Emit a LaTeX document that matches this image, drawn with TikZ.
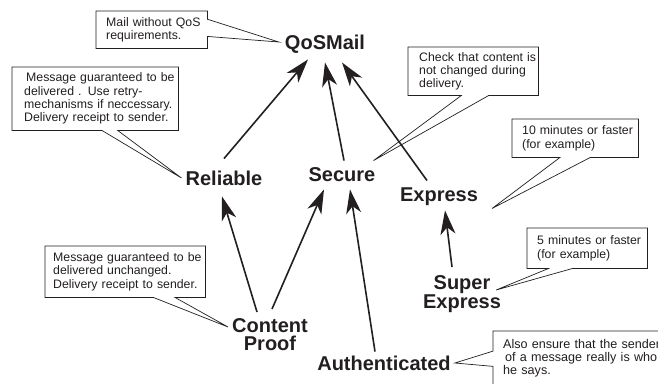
\documentclass[tikz,border=0pt]{standalone}
\usepackage{fontspec}
\setmainfont{Liberation Sans}
\usetikzlibrary{arrows.meta,calc,backgrounds}
\definecolor{ink}{RGB}{35,31,32}
\begin{document}
\begin{tikzpicture}[x=1pt,y=-1pt,
  term/.style={font=\fontsize{20}{18}\selectfont\bfseries, text=ink, inner sep=0pt, align=center},
  term1/.style={term, text height=14.5pt, text depth=0pt},
  note/.style={font=\fontsize{12.3}{13.3}\selectfont, text=ink, anchor=north west, align=left, inner ysep=0pt},
  arr/.style={draw=ink, line width=1.6pt, -{Stealth[length=24pt,width=15pt,inset=7pt]}},
  bubble/.style={draw=ink, line width=0.7pt, fill=white, line join=miter},
  shade/.style={fill=ink}
]
\useasboundingbox (0,0) rectangle (658,383);
\clip (0,0) rectangle (658,383);

% service classes
\node[term1] (qos) at (325,42) {QoSMail};
\node[term1] (rel) at (224,178) {Reliable};
\node[term1] (sec) at (342,174) {Secure};
\node[term1] (exp) at (439,194) {Express};
\node[term, anchor=north, font=\fontsize{20}{16}\selectfont\bfseries] (sup) at (462,275) {Super\\Express};
\node[term, anchor=north] (con) at (270,318) {Content\\Proof};
\node[term1] (aut) at (384,363) {Authenticated};

% explanatory notes
\node[note, text width=91pt, inner xsep=10pt, minimum width=111pt, minimum height=37pt] (nA) at (96,11)
  {\mbox{Mail without QoS}\\\mbox{requirements.}};
\node[note, text width=142pt, inner xsep=12pt, minimum width=166pt, minimum height=63pt] (nB) at (12,67)
  {\mbox{\hspace{2pt}Message guaranteed to be}\\\mbox{delivered . Use retry-}\\\mbox{mechanisms if neccessary.}\\\mbox{Delivery receipt to sender.}};
\node[note, text width=108pt, inner xsep=11pt, minimum width=130pt, minimum height=48pt] (nC) at (408,47)
  {\mbox{Check that content is}\\\mbox{not changed during}\\\mbox{delivery.}};
\node[note, text width=106pt, inner xsep=10pt, minimum width=126pt, minimum height=38pt] (nD) at (512,119)
  {\mbox{10 minutes or faster}\\\mbox{(for example)}};
\node[note, text width=100pt, inner xsep=10pt, minimum width=120pt, minimum height=40pt] (nE) at (527,228)
  {\mbox{5 minutes or faster}\\\mbox{(for example)}};
\node[note, font=\fontsize{12.6}{13.3}\selectfont, text width=190pt, inner xsep=10pt, minimum width=210pt, minimum height=54pt] (nF) at (493,331)
  {\mbox{Also ensure that the sender}\\\mbox{\hspace{2pt}of a message really is who}\\\mbox{he says.}};
\node[note, text width=144pt, inner xsep=8pt, minimum width=160pt, minimum height=51pt] (nG) at (45,246)
  {\mbox{Message guaranteed to be}\\\mbox{delivered unchanged.}\\\mbox{Delivery receipt to sender.}};

% note outlines with their pointers
\begin{scope}[on background layer]
  \foreach \n in {nA,nB,nC,nD,nE,nF,nG}
    \fill[shade] ([shift={(1pt,-1pt)}]\n.north west) rectangle ([shift={(1pt,-1pt)}]\n.south east);
  \path[bubble] (nA.north west) -- (nA.north east) -- ($(nA.north east)!0.22!(nA.south east)$)
    -- ([xshift=-6pt]qos.west) -- ($(nA.north east)!0.68!(nA.south east)$) -- (nA.south east) -- (nA.south west) -- cycle;
  \path[bubble] (nB.north west) -- (nB.north east) -- (nB.south east) -- ($(nB.south west)!0.635!(nB.south east)$)
    -- ([xshift=-4pt]rel.west) -- ($(nB.south west)!0.54!(nB.south east)$) -- (nB.south west) -- cycle;
  \path[bubble] (nC.north west) -- (nC.north east) -- (nC.south east) -- ($(nC.south west)!0.62!(nC.south east)$)
    -- ([xshift=-2pt,yshift=6pt]sec.north east) -- ($(nC.south west)!0.41!(nC.south east)$) -- (nC.south west) -- cycle;
  \path[bubble] (nD.north west) -- (nD.north east) -- (nD.south east) -- ($(nD.south west)!0.62!(nD.south east)$)
    -- ([xshift=14pt,yshift=-7pt]exp.south east) -- ($(nD.south west)!0.38!(nD.south east)$) -- (nD.south west) -- cycle;
  \path[bubble] (nE.north west) -- (nE.north east) -- (nE.south east) -- ($(nE.south west)!0.38!(nE.south east)$)
    -- ([xshift=-5pt,yshift=-15pt]sup.north east) -- ($(nE.south west)!0.18!(nE.south east)$) -- (nE.south west) -- cycle;
  \path[bubble] (nF.north west) -- (nF.north east) -- (nF.south east) -- (nF.south west)
    -- ($(nF.north west)!0.65!(nF.south west)$) -- ([xshift=4pt]aut.east) -- ($(nF.north west)!0.37!(nF.south west)$) -- cycle;
  \path[bubble] (nG.north west) -- (nG.north east) -- (nG.south east) -- ($(nG.south west)!0.81!(nG.south east)$)
    -- ([xshift=-4pt,yshift=-9pt]con.north west) -- ($(nG.south west)!0.675!(nG.south east)$) -- (nG.south west) -- cycle;
\end{scope}

% specialisation arrows
\draw[arr] ([yshift=12pt]rel.north) -- ([xshift=-17pt,yshift=-10pt]qos.south);
\draw[arr] ([xshift=2pt,yshift=6pt]sec.north) -- ([yshift=-13pt]qos.south);
\draw[arr] ([xshift=-12pt,yshift=6pt]exp.north) -- ([xshift=17pt,yshift=-13pt]qos.south);
\draw[arr] ([xshift=-13pt,yshift=6pt]con.north) -- ([xshift=-2pt,yshift=-11pt]rel.south);
\draw[arr] ([xshift=2pt,yshift=9pt]con.north) -- ([xshift=-18pt,yshift=-8pt]sec.south);
\draw[arr] ([xshift=-9pt,yshift=4pt]aut.north) -- ([xshift=8pt,yshift=-8pt]sec.south);
\draw[arr] ([xshift=-10pt,yshift=8pt]sup.north) -- ([xshift=6pt,yshift=-9pt]exp.south);
\end{tikzpicture}
\end{document}
